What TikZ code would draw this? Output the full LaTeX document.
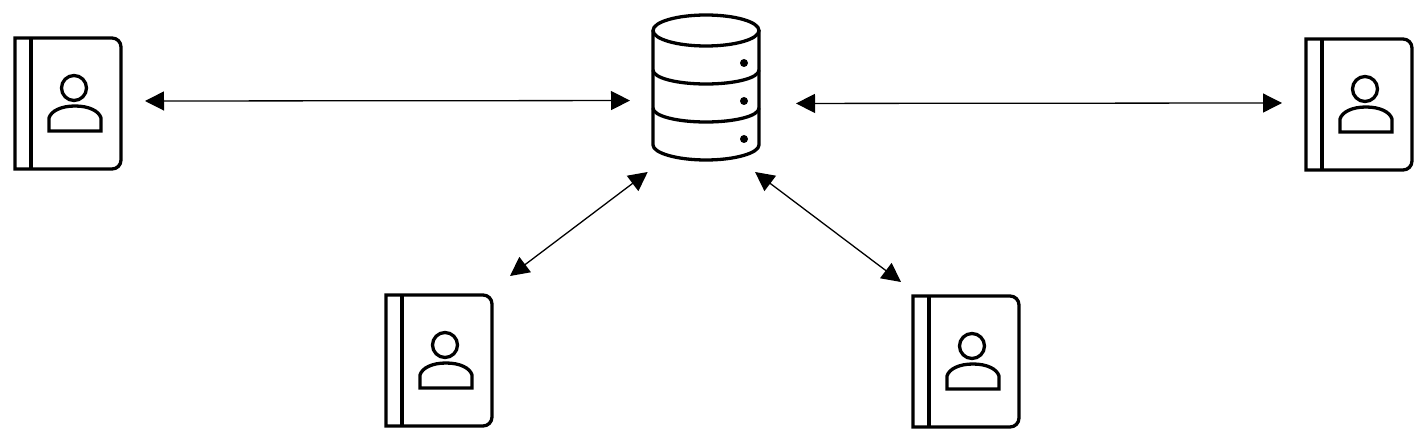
\documentclass[tikz,border=0pt]{standalone}
\usetikzlibrary{arrows.meta}

\tikzset{
    hub/.style={inner sep=0pt, outer sep=0pt, minimum width=166pt, minimum height=140pt},
    contact/.style={inner sep=0pt, outer sep=0pt},
    link/.style={{Triangle[length=19pt,width=19pt]}-{Triangle[length=19pt,width=19pt]}, line width=1.3pt},
    icon/.style={line width=3.3pt, line join=miter},
    bookicon/.pic={
        \draw[icon] (0,0) [rounded corners=9pt] -- (106,0) -- (106,131) [sharp corners] -- (0,131) -- cycle; % cover
        \draw[icon] (16,0) -- (16,131); % spine
        \draw[icon] (59,50) circle (12.5); % head
        \draw[icon] (34,93) -- (34,80) .. controls (36,73) and (46,68) .. (60,68)
            .. controls (74,68) and (84,73) .. (86,80) -- (86,93) -- cycle; % shoulders
    },
}

\begin{document}
\begin{tikzpicture}[x=1pt, y=-1pt]
    \useasboundingbox (0,0) rectangle (1428,443);

    % Database in the middle
    \begin{scope}[shift={(706,0)}]
        \draw[icon] (0,30.5) ellipse (53 and 15.5);
        \draw[icon] (-53,30.5) -- (-53,145) .. controls (-53,153) and (-29,160) .. (0,160)
            .. controls (29,160) and (53,153) .. (53,145) -- (53,30.5);
        \foreach \ypos in {70,108} {
            \draw[icon] (-53,\ypos) .. controls (-53,\ypos+8) and (-29,\ypos+14) .. (0,\ypos+14)
                .. controls (29,\ypos+14) and (53,\ypos+8) .. (53,\ypos);
        }
        \foreach \ypos in {63,101,139} {
            \fill (38,\ypos) circle (4); % status light
        }
    \end{scope}
    \node[hub] (db) at (713,102) {};

    % Address books
    \pic at (15,38) {bookicon};
    \pic at (1306,39) {bookicon};
    \pic at (386,295) {bookicon};
    \pic at (913,296) {bookicon};

    \node[contact, minimum width=154pt, minimum height=140pt] (bookLeft) at (68,101) {};
    \node[contact, minimum width=154pt, minimum height=140pt] (bookRight) at (1359,103) {};
    \node[contact, minimum width=142pt, minimum height=170pt] (bookLow) at (439,361) {};
    \node[contact, minimum width=130pt, minimum height=158pt] (bookHigh) at (966,361) {};

    % Links to the database
    \draw[link] (bookLeft.east) -- (db.179.3);
    \draw[link] (db.359.3) -- (bookRight.west);
    \draw[link] (bookLow.north east) -- (db.227.6);
    \draw[link] (db.301) -- (bookHigh.north west);
\end{tikzpicture}
\end{document}
